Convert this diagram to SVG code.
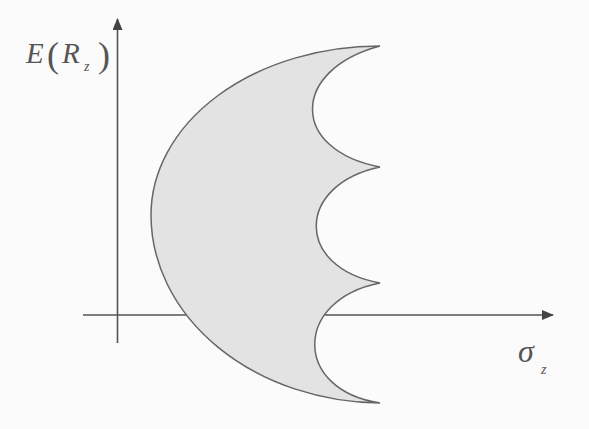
<svg xmlns="http://www.w3.org/2000/svg" width="589" height="429" viewBox="0 0 589 429">
<style>
.axis{stroke:#555;stroke-width:1.6;fill:none}
.shape{fill:#e3e3e3;stroke:#666;stroke-width:1.5;stroke-linejoin:miter}
.lbl{font-family:"Liberation Serif","DejaVu Serif",serif;font-style:italic;fill:#555}
</style>
<defs>
<marker id="arr" viewBox="0 0 12 10" refX="11" refY="5" markerWidth="12" markerHeight="10" markerUnits="userSpaceOnUse" orient="auto">
<path d="M0,0 L12,5 L0,10 Z" fill="#444"/>
</marker>
</defs>
<rect width="589" height="429" fill="#fbfbfb"/>
<g id="axes">
<line class="axis" x1="117.5" y1="343" x2="117.5" y2="19" marker-end="url(#arr)"/>
<line class="axis" x1="83" y1="315" x2="553" y2="315" marker-end="url(#arr)"/>
</g>
<g id="region">
<path class="shape" d="M380,46 A229,169 0 0 0 151,215 A232,188 0 0 0 380,403 C293,390 293,300 380,283 C295,268 295,185 380,167 C290,150 290,70 380,46 Z"/>
</g>
<g id="labels">
<text class="lbl" x="26" y="63" font-size="29">E</text>
<text class="lbl" x="47" y="67" font-size="36" style="font-style:normal">(</text>
<text class="lbl" x="62" y="63" font-size="29">R</text>
<text class="lbl" x="84" y="71" font-size="14">z</text>
<text class="lbl" x="98" y="67" font-size="36" style="font-style:normal">)</text>
<text class="lbl" x="518" y="362" font-size="32">σ</text>
<text class="lbl" x="541" y="374" font-size="14">z</text>
</g>
</svg>
